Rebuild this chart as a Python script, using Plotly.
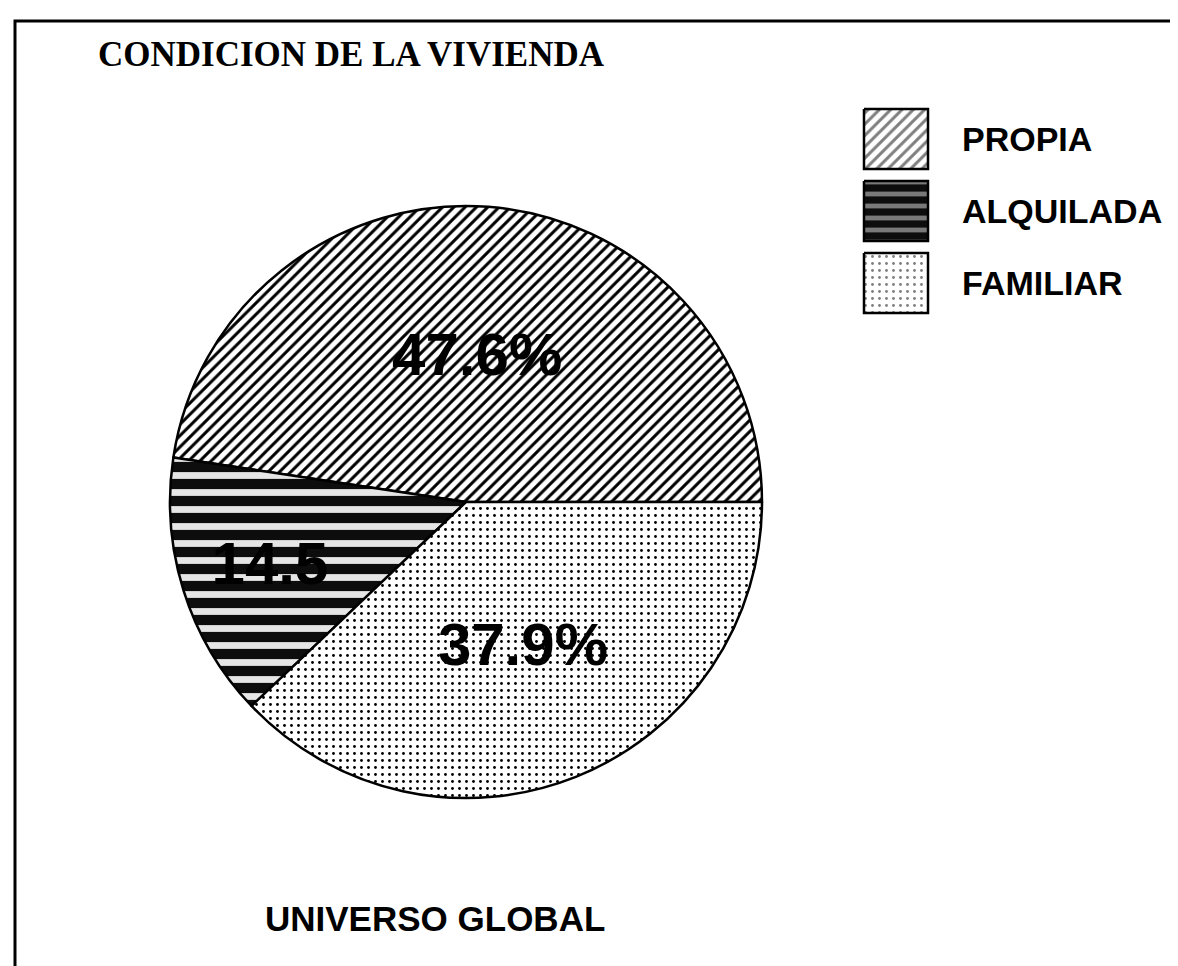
import plotly.graph_objects as go

# ---- data ----
labels = ["PROPIA", "ALQUILADA", "FAMILIAR"]
values = [47.6, 14.5, 37.9]
slice_text = ["47.6%", "14.5", "37.9%"]
title_text = "CONDICION DE LA VIVIENDA"
footer_text = "UNIVERSO GLOBAL"

# ---- styles ----
pattern_shapes = ["/", "-", "."]
pattern_fg = ["black", "#e6e6e6", "black"]
pattern_bg = ["white", "#0d0d0d", "white"]
pattern_size = [8, 17, 7]
pattern_solidity = [0.38, 0.4, 0.13]

W, H = 1178, 966
cx, cy, r = 458, 494, 296

# first slice (PROPIA) starts at 3 o'clock and runs counterclockwise
total = sum(values)
rotation = 90 - values[0] / total * 360

fig = go.Figure()

fig.add_trace(go.Pie(
    labels=labels, values=values, text=slice_text,
    texttemplate="%{text}", sort=False,
    direction="counterclockwise", rotation=rotation,
    textposition="inside", insidetextorientation="horizontal",
    textfont=dict(family="Liberation Sans, Arial, sans-serif", size=60, color="black", weight="bold"),
    marker=dict(
        colors=pattern_bg,
        line=dict(color="black", width=2.5),
        pattern=dict(shape=pattern_shapes, fgcolor=pattern_fg, bgcolor=pattern_bg,
                     size=pattern_size, solidity=pattern_solidity, fillmode="replace"),
    ),
    domain=dict(x=[(cx - r) / W, (cx + r) / W], y=[1 - (cy + r) / H, 1 - (cy - r) / H]),
    showlegend=False,
))

# custom legend boxes (pixel space overlay axis)
box_x0, box_x1 = 856, 920
box_tops = [101, 173, 245]
box_h = 60
legend_sizes = [8, 12, 7]
for i, lab in enumerate(labels):
    y0 = box_tops[i]
    y1 = y0 + box_h
    fig.add_trace(go.Scatter(
        x=[box_x0, box_x1, box_x1, box_x0, box_x0],
        y=[y0, y0, y1, y1, y0],
        mode="lines", fill="toself",
        fillcolor=pattern_bg[i],
        fillpattern=dict(shape=pattern_shapes[i], fgcolor=pattern_fg[i], bgcolor=pattern_bg[i],
                         size=legend_sizes[i], solidity=pattern_solidity[i]),
        line=dict(color="black", width=2.5),
        showlegend=False, hoverinfo="skip",
        xaxis="x", yaxis="y",
    ))
    fig.add_annotation(
        x=952, y=y0 + box_h / 2, xref="x", yref="y", text=lab, showarrow=False,
        xanchor="left", yanchor="middle",
        font=dict(family="Liberation Sans, Arial, sans-serif", size=34, color="black", weight="bold"),
    )

# title
fig.add_annotation(
    x=88, y=46, xref="x", yref="y", text=title_text, showarrow=False,
    xanchor="left", yanchor="middle",
    font=dict(family="Liberation Serif, Times New Roman, serif", size=35, color="black", weight="bold"),
)
# footer
fig.add_annotation(
    x=255, y=910, xref="x", yref="y", text=footer_text, showarrow=False,
    xanchor="left", yanchor="middle",
    font=dict(family="Liberation Sans, Arial, sans-serif", size=35, color="black", weight="bold"),
)

# frame
fig.add_shape(type="rect", xref="paper", yref="paper",
              x0=7 / W, x1=1.05, y0=-0.05, y1=1 - 13 / H,
              line=dict(color="black", width=3), fillcolor="rgba(0,0,0,0)")

fig.update_layout(
    width=W, height=H,
    margin=dict(l=0, r=0, t=0, b=0),
    paper_bgcolor="white", plot_bgcolor="rgba(0,0,0,0)",
    xaxis=dict(range=[0, W], domain=[0, 1], visible=False, fixedrange=True),
    yaxis=dict(range=[H, 0], domain=[0, 1], visible=False, fixedrange=True),
    showlegend=False,
)

fig.write_html("out.html")
